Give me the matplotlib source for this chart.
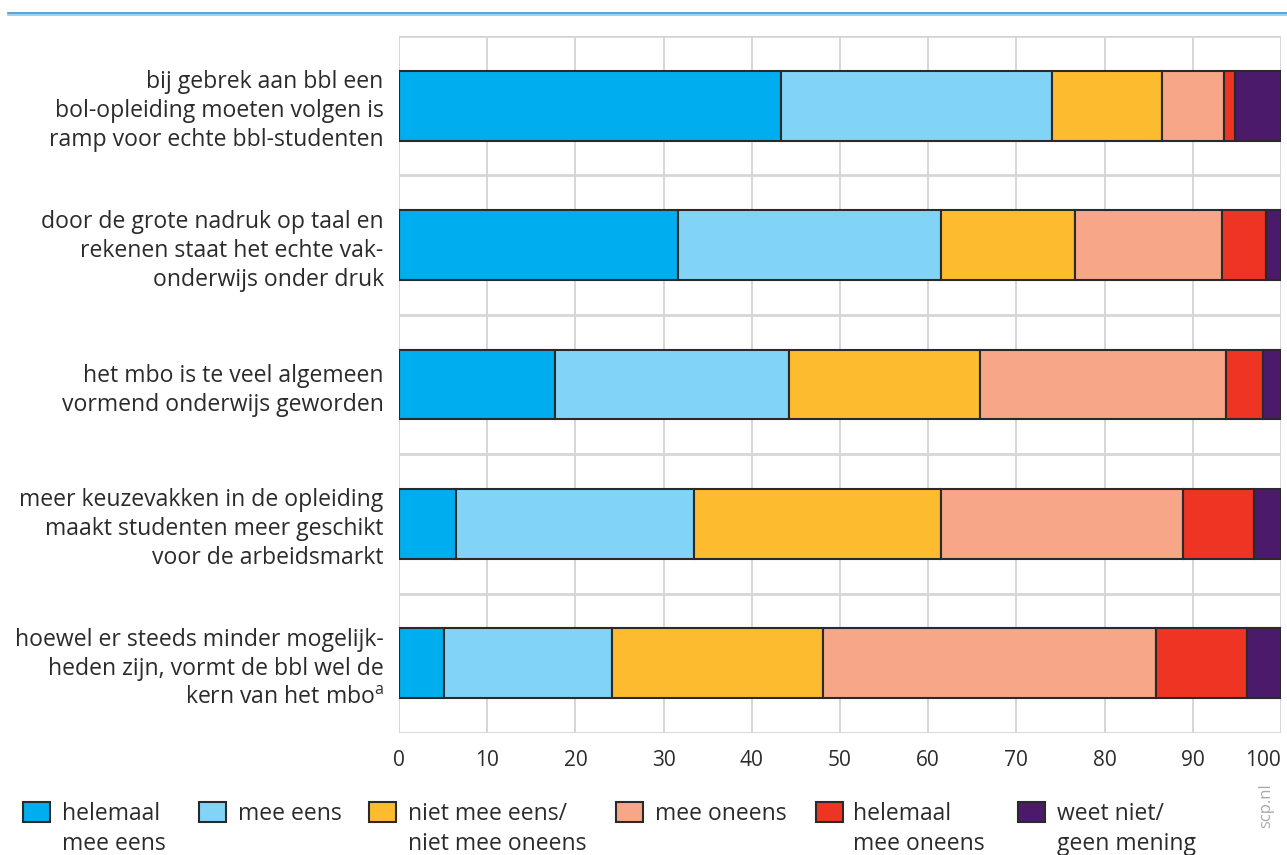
import matplotlib
matplotlib.use("Agg")
import matplotlib.pyplot as plt
from matplotlib.lines import Line2D
from matplotlib.patches import Rectangle
import numpy as np

plt.rcParams['font.family'] = ['Open Sans', 'DejaVu Sans']

# data (percentages)
statements = [
    "bij gebrek aan bbl een\nbol-opleiding moeten volgen is\nramp voor echte bbl-studenten",
    "door de grote nadruk op taal en\nrekenen staat het echte vak-\nonderwijs onder druk",
    "het mbo is te veel algemeen\nvormend onderwijs geworden",
    "meer keuzevakken in de opleiding\nmaakt studenten meer geschikt\nvoor de arbeidsmarkt",
    "hoewel er steeds minder mogelijk-\nheden zijn, vormt de bbl wel de\nkern van het mbo$^{\\mathregular{a}}$",
]
categories = ["helemaal\nmee eens", "mee eens", "niet mee eens/\nniet mee oneens",
              "mee oneens", "helemaal\nmee oneens", "weet niet/\ngeen mening"]
helemaal_eens = [43.3, 31.6, 17.7, 6.5, 5.1]
mee_eens = [30.7, 29.8, 26.5, 27.0, 19.1]
neutraal = [12.5, 15.2, 21.7, 28.0, 23.9]
mee_oneens = [7.0, 16.7, 27.9, 27.4, 37.7]
helemaal_oneens = [1.3, 5.0, 4.2, 8.0, 10.4]
weet_niet = [5.2, 1.7, 2.0, 3.1, 3.8]
xticks = [0, 10, 20, 30, 40, 50, 60, 70, 80, 90, 100]

colors = ["#00aeef", "#82d4f7", "#fdbb30", "#f7a688", "#ee3524", "#4b1a6b"]
series = [helemaal_eens, mee_eens, neutraal, mee_oneens, helemaal_oneens, weet_niet]
txt = "#2b2b2b"
W, H = 1287, 855

fig = plt.figure(figsize=(12.87, 8.55), dpi=100)
ax = fig.add_axes([399 / W, 1 - 733 / H, (1281 - 399) / W, (733 - 36) / H])

y = np.arange(len(statements))
left = np.zeros(len(statements))
for vals, col in zip(series, colors):
    ax.barh(y, vals, left=left, height=0.5, color=col, edgecolor="#2a2a2a",
            linewidth=1.5, zorder=3)
    left += np.array(vals)

ax.set_xlim(0, 100)
ax.set_ylim(4.5, -0.5)
ax.set_xticks(xticks)
ax.set_xticklabels([str(t) for t in xticks])
ax.set_yticks(y)
ax.set_yticklabels(statements, fontsize=16.6, color=txt, linespacing=1.28)
ax.set_yticks(np.arange(-0.5, 5, 1), minor=True)
ax.tick_params(axis="y", which="both", length=0, pad=11)
ax.tick_params(axis="x", length=0, pad=12, labelsize=15, labelcolor=txt)
ax.xaxis.get_majorticklabels()[-1].set_horizontalalignment("right")
ax.grid(axis="x", which="major", color="#d6d6d6", linewidth=1.4, zorder=0)
ax.grid(axis="y", which="minor", color="#d6d6d6", linewidth=2.0, zorder=0)
ax.grid(axis="y", which="major", visible=False)
for s in ax.spines.values():
    s.set_visible(False)

# top rule
fig.add_artist(Line2D([8 / W, 1], [1 - 13 / H] * 2, color="#3d93c9", linewidth=1.2))
fig.add_artist(Line2D([8 / W, 1], [1 - 14.6 / H] * 2, color="#86cdf0", linewidth=1.2))

# legend
sq_x = [23, 199, 369, 616, 816, 1018]
tx_x = [62, 238, 408, 655, 853, 1057]
for lab, col, sx, tx in zip(categories, colors, sq_x, tx_x):
    fig.add_artist(Rectangle((sx / W, 1 - 822 / H), 27 / W, 20 / H, facecolor=col,
                             edgecolor="#2a2a2a", linewidth=1.5, transform=fig.transFigure))
    for i, line in enumerate(lab.split("\n")):
        fig.text(tx / W, 1 - (820 + 30 * i) / H, line, fontsize=16.5, color=txt,
                 ha="left", va="baseline")

fig.text(1266 / W, 1 - 806 / H, "scp.nl", rotation=90, fontsize=12, color="#aaaaaa",
         ha="center", va="center")

fig.savefig("out.png", dpi=100)
